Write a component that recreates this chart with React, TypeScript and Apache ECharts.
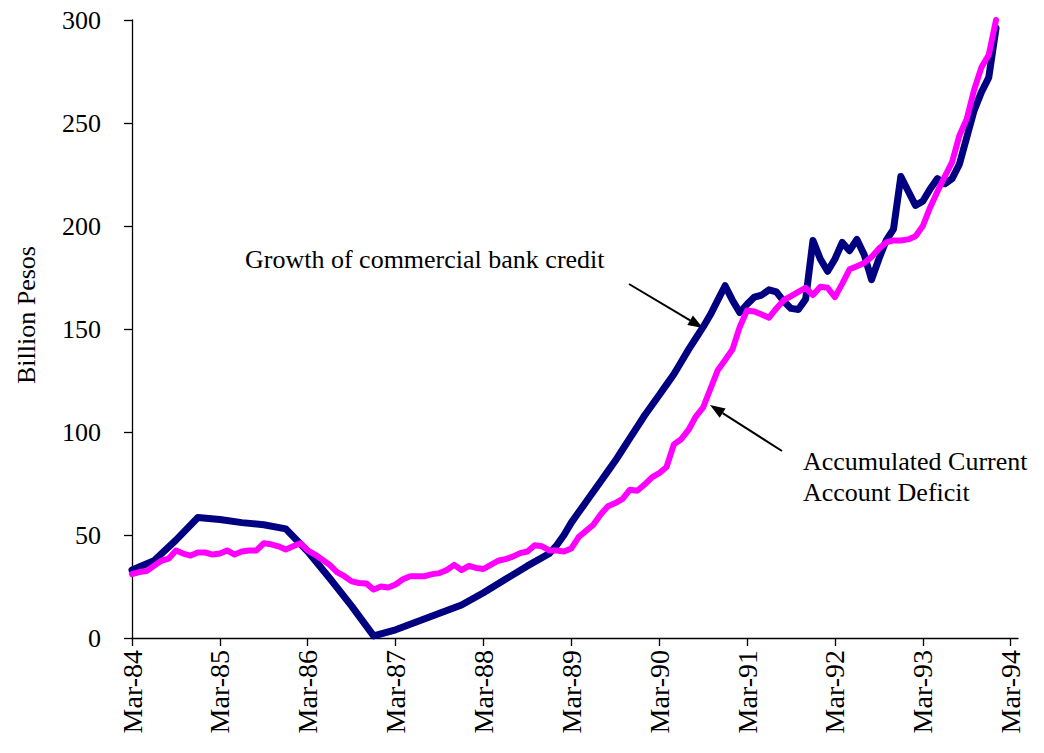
import React, { useEffect, useRef } from "react";
import * as echarts from "echarts";

const MONTH_NAMES = ["Jan", "Feb", "Mar", "Apr", "May", "Jun", "Jul", "Aug", "Sep", "Oct", "Nov", "Dec"];
const AXIS_MONTH_COUNT = 122; // Mar-84 .. Apr-94

const tickLabels = ["Mar-84", "Mar-85", "Mar-86", "Mar-87", "Mar-88", "Mar-89", "Mar-90", "Mar-91", "Mar-92", "Mar-93", "Mar-94"];
const yMin = 0;
const yMax = 300;
const yStep = 50;

// Growth of commercial bank credit (quarterly early, monthly later)
const bankMonths = [
  "Mar-84", "Jun-84", "Sep-84", "Dec-84", "Mar-85", "Jun-85", "Sep-85", "Dec-85",
  "Mar-86", "Jun-86", "Sep-86", "Dec-86", "Mar-87", "Jun-87", "Sep-87", "Dec-87",
  "Mar-88", "Jun-88", "Sep-88", "Dec-88",
  "Jan-89", "Feb-89", "Mar-89", "Apr-89", "May-89", "Jun-89", "Jul-89", "Aug-89", "Sep-89", "Oct-89", "Nov-89", "Dec-89",
  "Jan-90", "Feb-90", "Mar-90", "Apr-90", "May-90", "Jun-90", "Jul-90", "Aug-90", "Sep-90", "Oct-90", "Nov-90", "Dec-90",
  "Jan-91", "Feb-91", "Mar-91", "Apr-91", "May-91", "Jun-91", "Jul-91", "Aug-91", "Sep-91", "Oct-91", "Nov-91", "Dec-91",
  "Jan-92", "Feb-92", "Mar-92", "Apr-92", "May-92", "Jun-92", "Jul-92", "Aug-92", "Sep-92", "Oct-92", "Nov-92", "Dec-92",
  "Jan-93", "Feb-93", "Mar-93", "Apr-93", "May-93", "Jun-93", "Jul-93", "Aug-93", "Sep-93", "Oct-93", "Nov-93", "Dec-93",
  "Jan-94",
];
const bankValues = [
  33, 37.5, 47.5, 58.5, 57.5, 56, 55, 53,
  42, 29, 15.5, 1, 4, 8, 12, 16,
  22, 28.5, 35, 41,
  45, 50, 56, 61, 66, 71, 76, 81, 86, 91.5, 97, 102.5,
  108, 113, 118, 123, 128, 134, 140, 145.5, 151, 157, 164, 171,
  164, 158, 162, 165.5, 166.5, 169, 168, 163.5, 160, 159.5, 164.5, 193,
  184, 178, 184, 192, 188, 193.5, 186, 174, 184, 193, 198.5, 224,
  217, 210, 212, 218, 223, 220.5, 223, 230, 243, 256, 265, 272,
  296,
];

// Accumulated current account deficit, monthly from Mar-84
const deficitValues = [
  31, 32, 32.5, 35, 37.5, 38.5, 42.5, 41, 40, 41.5, 41.5, 40.5,
  41, 42.5, 40.5, 42, 42.5, 42.5, 46, 45.5, 44.5, 43, 44.5, 46,
  42.5, 40.5, 38, 35.5, 32, 30, 27.5, 26.7, 26.5, 23.5, 25, 24.5,
  26, 28.5, 30, 30, 30, 31, 31.5, 33, 35.5, 33, 35, 34,
  33.5, 35.5, 37.5, 38.3, 39.5, 41.2, 42, 45, 44.5, 42.5, 42.5, 42,
  43.5, 49, 52, 55, 60, 64, 65.5, 67.5, 72, 71.5, 74.5, 78,
  80, 83, 94, 96.5, 101, 107.5, 112, 121, 130, 135, 140, 151,
  159, 158.5, 157, 155.5, 160, 164, 166, 168, 170, 166.5, 170.5, 170,
  165.5, 172, 179, 180.5, 182, 185, 189, 192, 193, 193, 193.5, 195,
  200, 209, 216.7, 224, 231, 244, 252, 266, 277, 283, 300,
];

const FONT = "'Liberation Serif', 'Times New Roman', serif";

function buildCategories(): string[] {
  const out: string[] = [];
  for (let i = 0; i < AXIS_MONTH_COUNT; i++) {
    const k = 2 + i;
    out.push(MONTH_NAMES[k % 12] + "-" + (84 + Math.floor(k / 12)));
  }
  return out;
}

function arrow(x1: number, y1: number, x2: number, y2: number) {
  const ang = Math.atan2(y2 - y1, x2 - x1);
  const len = 15;
  const half = 5.5;
  const bx = x2 - len * Math.cos(ang);
  const by = y2 - len * Math.sin(ang);
  const px = -Math.sin(ang) * half;
  const py = Math.cos(ang) * half;
  return [
    {
      type: "line",
      shape: { x1, y1, x2: bx, y2: by },
      style: { stroke: "#000", lineWidth: 2 },
    },
    {
      type: "polygon",
      shape: { points: [[x2, y2], [bx + px, by + py], [bx - px, by - py]] },
      style: { fill: "#000" },
    },
  ];
}

export default function App() {
  const ref = useRef<HTMLDivElement>(null);
  useEffect(() => {
    if (!ref.current) return;
    const chart = echarts.init(ref.current, null, { renderer: "svg" });
    const categories = buildCategories();
    const bankData: (number | null)[] = categories.map(() => null);
    bankMonths.forEach((m, i) => {
      const idx = categories.indexOf(m);
      if (idx >= 0) bankData[idx] = bankValues[i];
    });
    const deficitData: (number | null)[] = categories.map((_, i) =>
      i < deficitValues.length ? deficitValues[i] : null
    );

    chart.setOption({
      animation: false,
      backgroundColor: "#fff",
      grid: { left: 132, right: 26, top: 20, bottom: 115, containLabel: false },
      xAxis: {
        type: "category",
        data: categories,
        boundaryGap: false,
        axisLine: { show: true, lineStyle: { color: "#000", width: 1.3 } },
        axisTick: {
          show: true,
          interval: (i: number) => i % 12 === 0,
          length: 8,
          lineStyle: { color: "#000", width: 1.3 },
        },
        axisLabel: {
          interval: (i: number) => i % 12 === 0,
          rotate: 90,
          margin: 12,
          color: "#000",
          fontFamily: FONT,
          fontSize: 28,
          formatter: (v: string) => (tickLabels.indexOf(v) >= 0 ? v : ""),
        },
        splitLine: { show: false },
      },
      yAxis: {
        type: "value",
        min: yMin,
        max: yMax,
        interval: yStep,
        axisLine: { show: true, lineStyle: { color: "#000", width: 1.3 } },
        axisTick: { show: true, length: 8, lineStyle: { color: "#000", width: 1.3 } },
        axisLabel: { margin: 31, color: "#000", fontFamily: FONT, fontSize: 26 },
        splitLine: { show: false },
      },
      series: [
        {
          name: "Growth of commercial bank credit",
          type: "line",
          data: bankData,
          connectNulls: true,
          showSymbol: false,
          symbol: "none",
          lineStyle: { color: "#000080", width: 7, join: "round", cap: "round" },
          z: 2,
        },
        {
          name: "Accumulated Current Account Deficit",
          type: "line",
          data: deficitData,
          connectNulls: true,
          showSymbol: false,
          symbol: "none",
          lineStyle: { color: "#FF00FF", width: 6, join: "round", cap: "round" },
          z: 3,
        },
      ],
      graphic: [
        {
          type: "text",
          x: 26,
          y: 315,
          rotation: Math.PI / 2,
          style: {
            text: "Billion Pesos",
            fontFamily: FONT,
            fontSize: 26,
            fill: "#000",
            align: "center",
            verticalAlign: "middle",
          },
        },
        {
          type: "text",
          x: 245,
          y: 259,
          style: {
            text: "Growth of commercial bank credit",
            fontFamily: FONT,
            fontSize: 26,
            fill: "#000",
            align: "left",
            verticalAlign: "middle",
          },
        },
        {
          type: "text",
          x: 803,
          y: 461,
          style: {
            text: "Accumulated Current",
            fontFamily: FONT,
            fontSize: 26,
            fill: "#000",
            align: "left",
            verticalAlign: "middle",
          },
        },
        {
          type: "text",
          x: 803,
          y: 492,
          style: {
            text: "Account Deficit",
            fontFamily: FONT,
            fontSize: 26,
            fill: "#000",
            align: "left",
            verticalAlign: "middle",
          },
        },
        ...arrow(629, 284, 703, 328),
        ...arrow(782, 451, 710, 405),
      ],
    });
    return () => chart.dispose();
  }, []);
  return (
    <div
      ref={ref}
      style={{ position: "fixed", left: 0, top: 0, width: 1044, height: 753, background: "#fff" }}
    />
  );
}
